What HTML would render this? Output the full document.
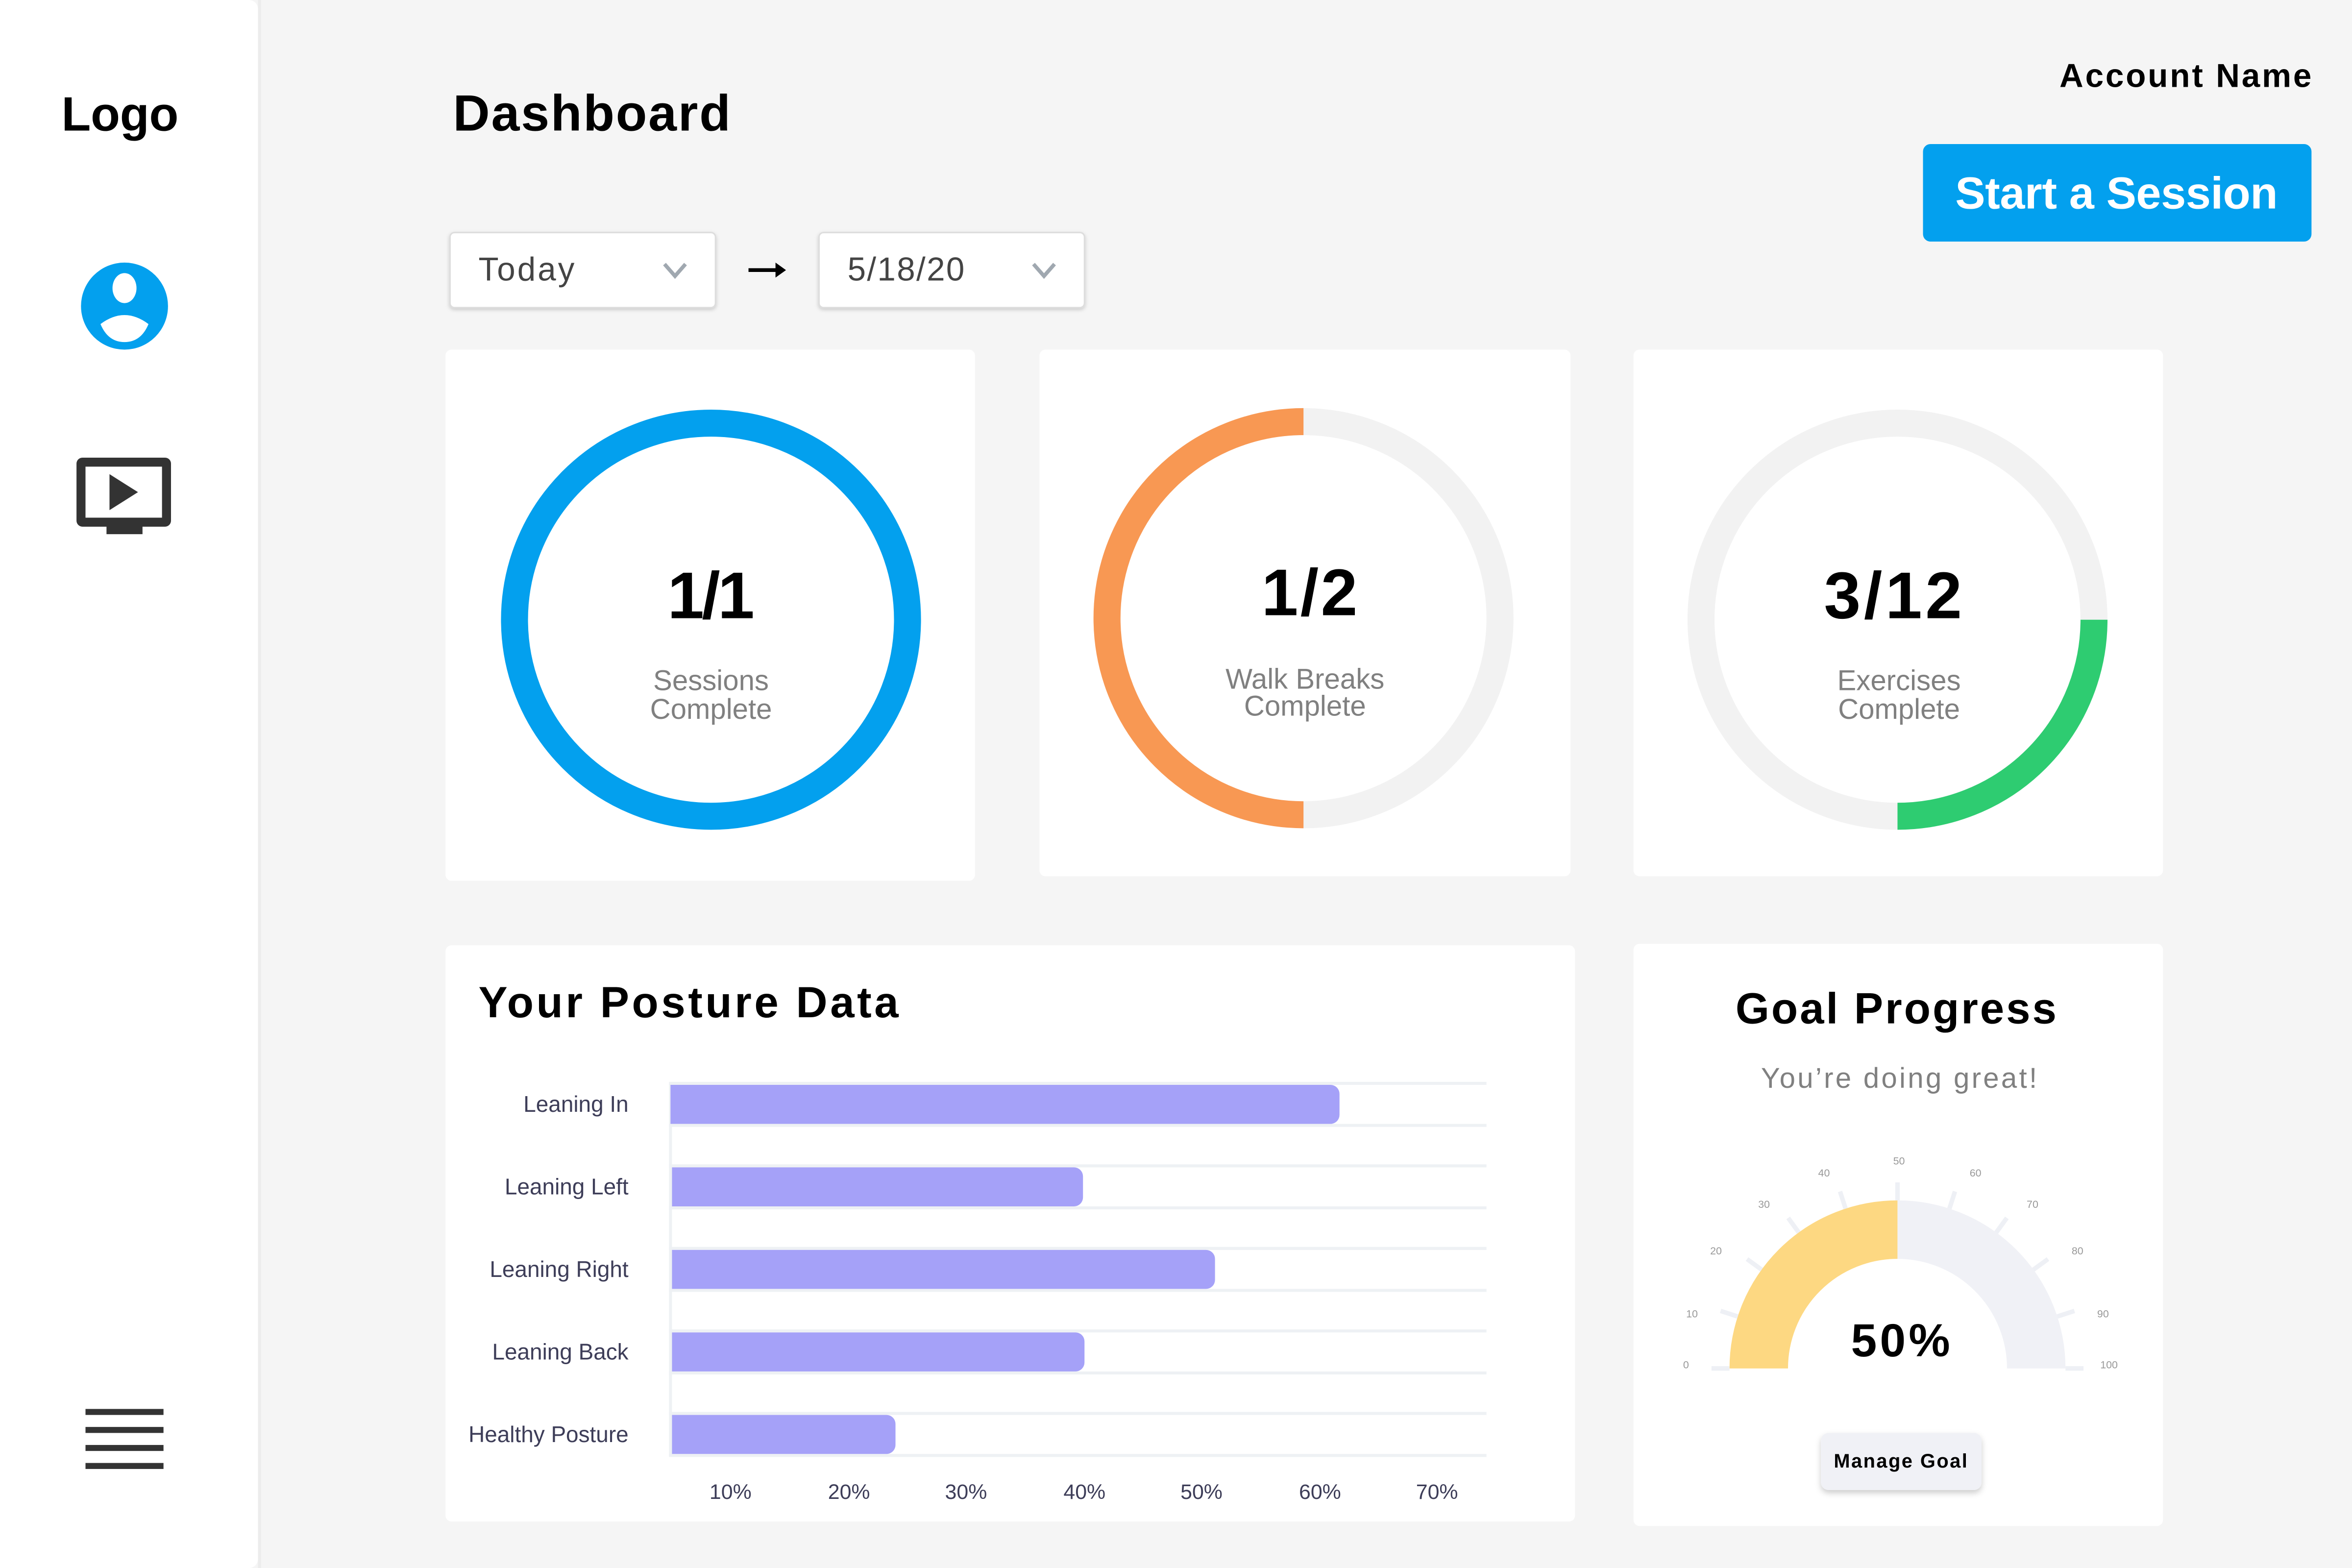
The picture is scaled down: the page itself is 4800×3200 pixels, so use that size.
<!DOCTYPE html>
<html><head><meta charset="utf-8"><style>
html,body{margin:0;padding:0;background:#f5f5f5;}
svg{display:block;}
text{font-family:"Liberation Sans",sans-serif;}
</style></head><body>
<svg width="4800" height="3200" viewBox="0 0 1568 1045" preserveAspectRatio="none" xmlns="http://www.w3.org/2000/svg">
<defs>
<filter id="sh" x="-20%" y="-20%" width="140%" height="160%"><feDropShadow dx="0" dy="1" stdDeviation="1.2" flood-color="#000" flood-opacity="0.18"/></filter>
<filter id="sh2" x="-20%" y="-30%" width="140%" height="180%"><feDropShadow dx="0" dy="2" stdDeviation="2" flood-color="#000" flood-opacity="0.2"/></filter>
</defs>
<rect width="1568" height="1045" fill="#f5f5f5"/>
<!-- sidebar -->
<rect x="-10" y="0" width="182" height="1045" rx="6" fill="#fff"/>
<rect x="172" y="0" width="2" height="1045" fill="#ececec"/>
<text x="80" y="87" font-size="32" font-weight="bold" text-anchor="middle" textLength="78">Logo</text>
<circle cx="83" cy="204" r="29" fill="#03a0ee"/>
<ellipse cx="83" cy="192" rx="8" ry="10" fill="#fff"/>
<path d="M67 216 Q83 204 99 216 Q94 228 83 228 Q72 228 67 216Z" fill="#fff"/>
<rect x="51" y="305" width="63" height="46" rx="4" fill="#333"/>
<rect x="57" y="311" width="51" height="34" fill="#fff"/>
<path d="M73 316 L73 340 L92 328Z" fill="#333"/>
<rect x="71" y="349" width="24" height="7" fill="#333"/>
<g fill="#333"><rect x="57" y="939" width="52" height="4"/><rect x="57" y="951" width="52" height="4"/><rect x="57" y="963" width="52" height="4"/><rect x="57" y="975" width="52" height="4"/></g>
<!-- header -->
<text x="302" y="87" font-size="34" font-weight="bold" textLength="185">Dashboard</text>
<text x="1541" y="58" font-size="22" font-weight="bold" text-anchor="end" textLength="168">Account Name</text>
<rect x="1282" y="96" width="259" height="65" rx="5" fill="#03a0ee"/>
<text x="1411" y="139" font-size="30" font-weight="bold" fill="#fff" text-anchor="middle" textLength="215">Start a Session</text>
<!-- dropdowns -->
<rect x="300" y="155" width="177" height="50" rx="3" fill="#fff" stroke="#ddd" filter="url(#sh)"/>
<text x="319" y="187" font-size="22" fill="#444" textLength="64">Today</text>
<path d="M443 176 L450 184 L457 176" fill="none" stroke="#a0a8b0" stroke-width="2.5"/>
<rect x="546" y="155" width="177" height="50" rx="3" fill="#fff" stroke="#ddd" filter="url(#sh)"/>
<text x="565" y="187" font-size="22" fill="#444" textLength="78">5/18/20</text>
<path d="M689 176 L696 184 L703 176" fill="none" stroke="#a0a8b0" stroke-width="2.5"/>
<path d="M499 180 H520" stroke="#000" stroke-width="2.5"/><path d="M517 175 L524 180 L517 185Z" fill="#000"/>
<!-- cards -->
<rect x="297" y="233" width="353" height="354" rx="4" fill="#fff"/>
<rect x="693" y="233" width="354" height="351" rx="4" fill="#fff"/>
<rect x="1089" y="233" width="353" height="351" rx="4" fill="#fff"/>
<circle cx="474" cy="413" r="131" fill="none" stroke="#03a0ee" stroke-width="18"/>
<circle cx="869" cy="412" r="131" fill="none" stroke="#f2f2f2" stroke-width="18"/>
<path d="M869 281 A131 131 0 0 0 869 543" fill="none" stroke="#f89853" stroke-width="18"/>
<circle cx="1265" cy="413" r="131" fill="none" stroke="#f2f2f2" stroke-width="18"/>
<path d="M1396 413 A131 131 0 0 1 1265 544" fill="none" stroke="#2ecc71" stroke-width="18"/>
<g font-weight="bold" font-size="44" text-anchor="middle">
<text x="474" y="412" textLength="58">1/1</text>
<text x="873" y="410" textLength="64">1/2</text>
<text x="1262" y="412" textLength="92">3/12</text>
</g>
<g font-size="19" fill="#808080" text-anchor="middle">
<text x="474" y="460">Sessions</text><text x="474" y="479">Complete</text>
<text x="870" y="459">Walk Breaks</text><text x="870" y="477">Complete</text>
<text x="1266" y="460">Exercises</text><text x="1266" y="479">Complete</text>
</g>
<!-- posture card -->
<rect x="297" y="630" width="753" height="384" rx="4" fill="#fff"/>
<text x="319" y="678" font-size="29" font-weight="bold" textLength="280">Your Posture Data</text>
<g stroke="#eef1f4" stroke-width="2">
<path d="M446 722H991M446 750H991M446 777H991M446 805H991M446 832H991M446 860H991M446 887H991M446 915H991M446 942H991M446 970H991"/>
<path d="M447 722V970"/>
</g>
<g fill="#a5a1f8">
<path d="M447 723H887a6 6 0 0 1 6 6V743a6 6 0 0 1 -6 6H447Z"/>
<path d="M448 778H716a6 6 0 0 1 6 6V798a6 6 0 0 1 -6 6H448Z"/>
<path d="M448 833H804a6 6 0 0 1 6 6V853a6 6 0 0 1 -6 6H448Z"/>
<path d="M448 888H717a6 6 0 0 1 6 6V908a6 6 0 0 1 -6 6H448Z"/>
<path d="M448 943H591a6 6 0 0 1 6 6V963a6 6 0 0 1 -6 6H448Z"/>
</g>
<g font-size="15" fill="#3d3d58" text-anchor="end">
<text x="419" y="741">Leaning In</text>
<text x="419" y="796">Leaning Left</text>
<text x="419" y="851">Leaning Right</text>
<text x="419" y="906">Leaning Back</text>
<text x="419" y="961">Healthy Posture</text>
</g>
<g font-size="14" fill="#3d3d58" text-anchor="middle">
<text x="487" y="999">10%</text><text x="566" y="999">20%</text><text x="644" y="999">30%</text><text x="723" y="999">40%</text><text x="801" y="999">50%</text><text x="880" y="999">60%</text><text x="958" y="999">70%</text>
</g>
<!-- goal card -->
<rect x="1089" y="629" width="353" height="388" rx="4" fill="#fff"/>
<text x="1264" y="682" font-size="29" font-weight="bold" text-anchor="middle" textLength="214">Goal Progress</text>
<text x="1266" y="725" font-size="19" fill="#808080" text-anchor="middle" textLength="184">You’re doing great!</text>
<path d="M1172.5 912 A92.5 92.5 0 0 1 1265 819.5" fill="none" stroke="#fdd882" stroke-width="39"/>
<path d="M1265 819.5 A92.5 92.5 0 0 1 1357.5 912" fill="none" stroke="#f0f1f6" stroke-width="39"/>
<g stroke="#eef0f5" stroke-width="3">
<line x1="1141" y1="912" x2="1153" y2="912"/>
<line x1="1141" y1="912" x2="1153" y2="912" transform="rotate(18 1265 912)"/>
<line x1="1141" y1="912" x2="1153" y2="912" transform="rotate(36 1265 912)"/>
<line x1="1141" y1="912" x2="1153" y2="912" transform="rotate(54 1265 912)"/>
<line x1="1141" y1="912" x2="1153" y2="912" transform="rotate(72 1265 912)"/>
<line x1="1141" y1="912" x2="1153" y2="912" transform="rotate(90 1265 912)"/>
<line x1="1141" y1="912" x2="1153" y2="912" transform="rotate(108 1265 912)"/>
<line x1="1141" y1="912" x2="1153" y2="912" transform="rotate(126 1265 912)"/>
<line x1="1141" y1="912" x2="1153" y2="912" transform="rotate(144 1265 912)"/>
<line x1="1141" y1="912" x2="1153" y2="912" transform="rotate(162 1265 912)"/>
<line x1="1141" y1="912" x2="1153" y2="912" transform="rotate(180 1265 912)"/>
</g>
<g font-size="7" fill="#999" text-anchor="middle">
<text x="1124" y="912">0</text><text x="1128" y="878">10</text><text x="1144" y="836">20</text><text x="1176" y="805">30</text><text x="1216" y="784">40</text><text x="1266" y="776">50</text><text x="1317" y="784">60</text><text x="1355" y="805">70</text><text x="1385" y="836">80</text><text x="1402" y="878">90</text><text x="1406" y="912">100</text>
</g>
<text x="1268" y="904" font-size="31" font-weight="bold" text-anchor="middle" letter-spacing="2">50%</text>
<rect x="1214" y="955" width="107" height="38" rx="5" fill="#f0f1f6" filter="url(#sh2)"/>
<text x="1267" y="978" font-size="13" font-weight="bold" text-anchor="middle" textLength="89">Manage Goal</text>
</svg>
</body></html>
